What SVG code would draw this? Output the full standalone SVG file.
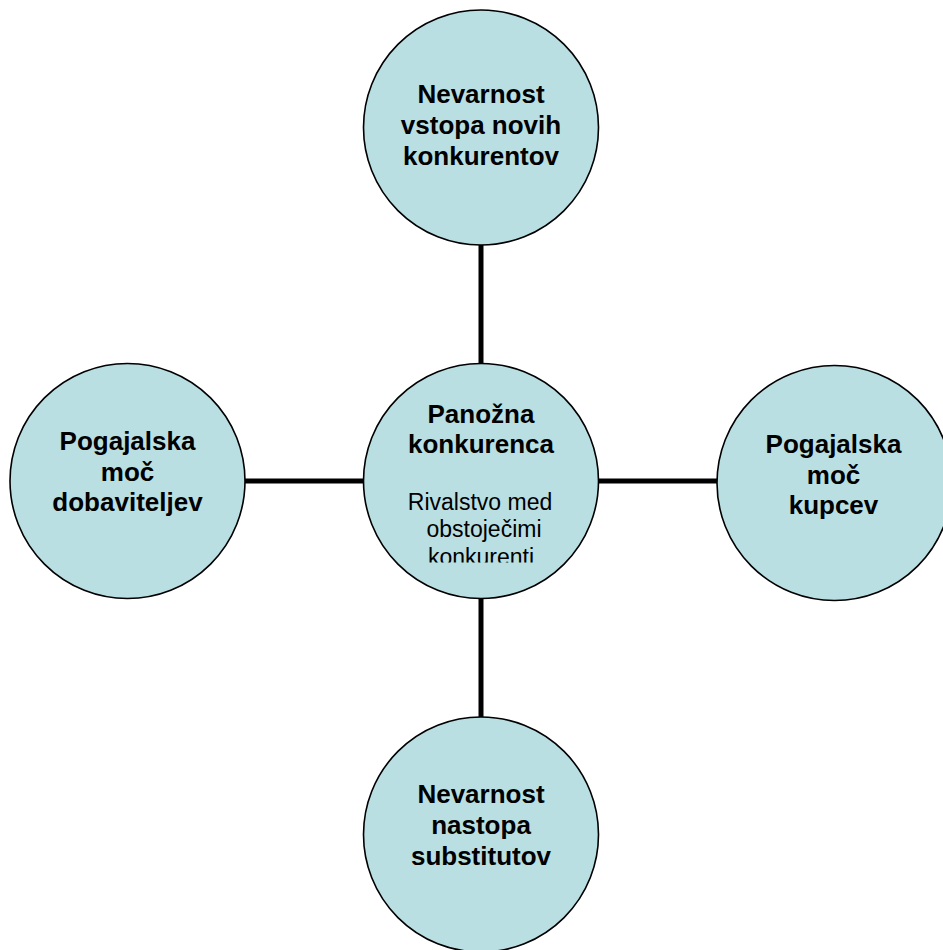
<svg xmlns="http://www.w3.org/2000/svg" width="943" height="950" viewBox="0 0 943 950">
<style>
.node{fill:#B9DFE3;stroke:#000;stroke-width:1.6}
.t{font-family:"Liberation Sans",Arial,sans-serif;font-weight:bold;font-size:26px;fill:#000;text-anchor:middle}
.r{font-family:"Liberation Sans",Arial,sans-serif;font-size:23px;fill:#000;text-anchor:middle}
.c{stroke:#000;stroke-width:5;fill:none}
</style>
<defs>
<clipPath id="clipC"><rect x="360" y="360" width="245" height="202.5"/></clipPath>
</defs>
<rect width="943" height="950" fill="#fff"/>
<g id="connectors">
<line class="c" x1="481" y1="245" x2="481" y2="364"/>
<line class="c" x1="481" y1="598" x2="481" y2="717"/>
<line class="c" x1="245" y1="481" x2="363" y2="481"/>
<line class="c" x1="598" y1="481" x2="717" y2="481"/>
</g>
<g id="n-top">
<circle class="node" cx="481" cy="127.5" r="117.5"/>
<text class="t" x="481" y="103">Nevarnost</text>
<text class="t" x="481" y="134">vstopa novih</text>
<text class="t" x="481" y="165">konkurentov</text>
</g>
<g id="n-center">
<circle class="node" cx="481" cy="481" r="117.5"/>
<g clip-path="url(#clipC)">
<text class="t" x="481" y="423">Panožna</text>
<text class="t" x="481" y="453">konkurenca</text>
<text class="r" x="480" y="510">Rivalstvo med</text>
<text class="r" x="484" y="537">obstoječimi</text>
<text class="r" x="481" y="565">konkurenti</text>
</g>
</g>
<g id="n-left">
<circle class="node" cx="127.5" cy="481" r="117.5"/>
<text class="t" x="127.5" y="450">Pogajalska</text>
<text class="t" x="127.5" y="481">moč</text>
<text class="t" x="127.5" y="511">dobaviteljev</text>
</g>
<g id="n-right">
<circle class="node" cx="834.5" cy="483" r="117.5"/>
<text class="t" x="833.5" y="453">Pogajalska</text>
<text class="t" x="833.5" y="484">moč</text>
<text class="t" x="833.5" y="514">kupcev</text>
</g>
<g id="n-bottom">
<circle class="node" cx="481" cy="834.5" r="117.5"/>
<text class="t" x="481" y="803">Nevarnost</text>
<text class="t" x="481" y="834">nastopa</text>
<text class="t" x="481" y="865">substitutov</text>
</g>
</svg>
